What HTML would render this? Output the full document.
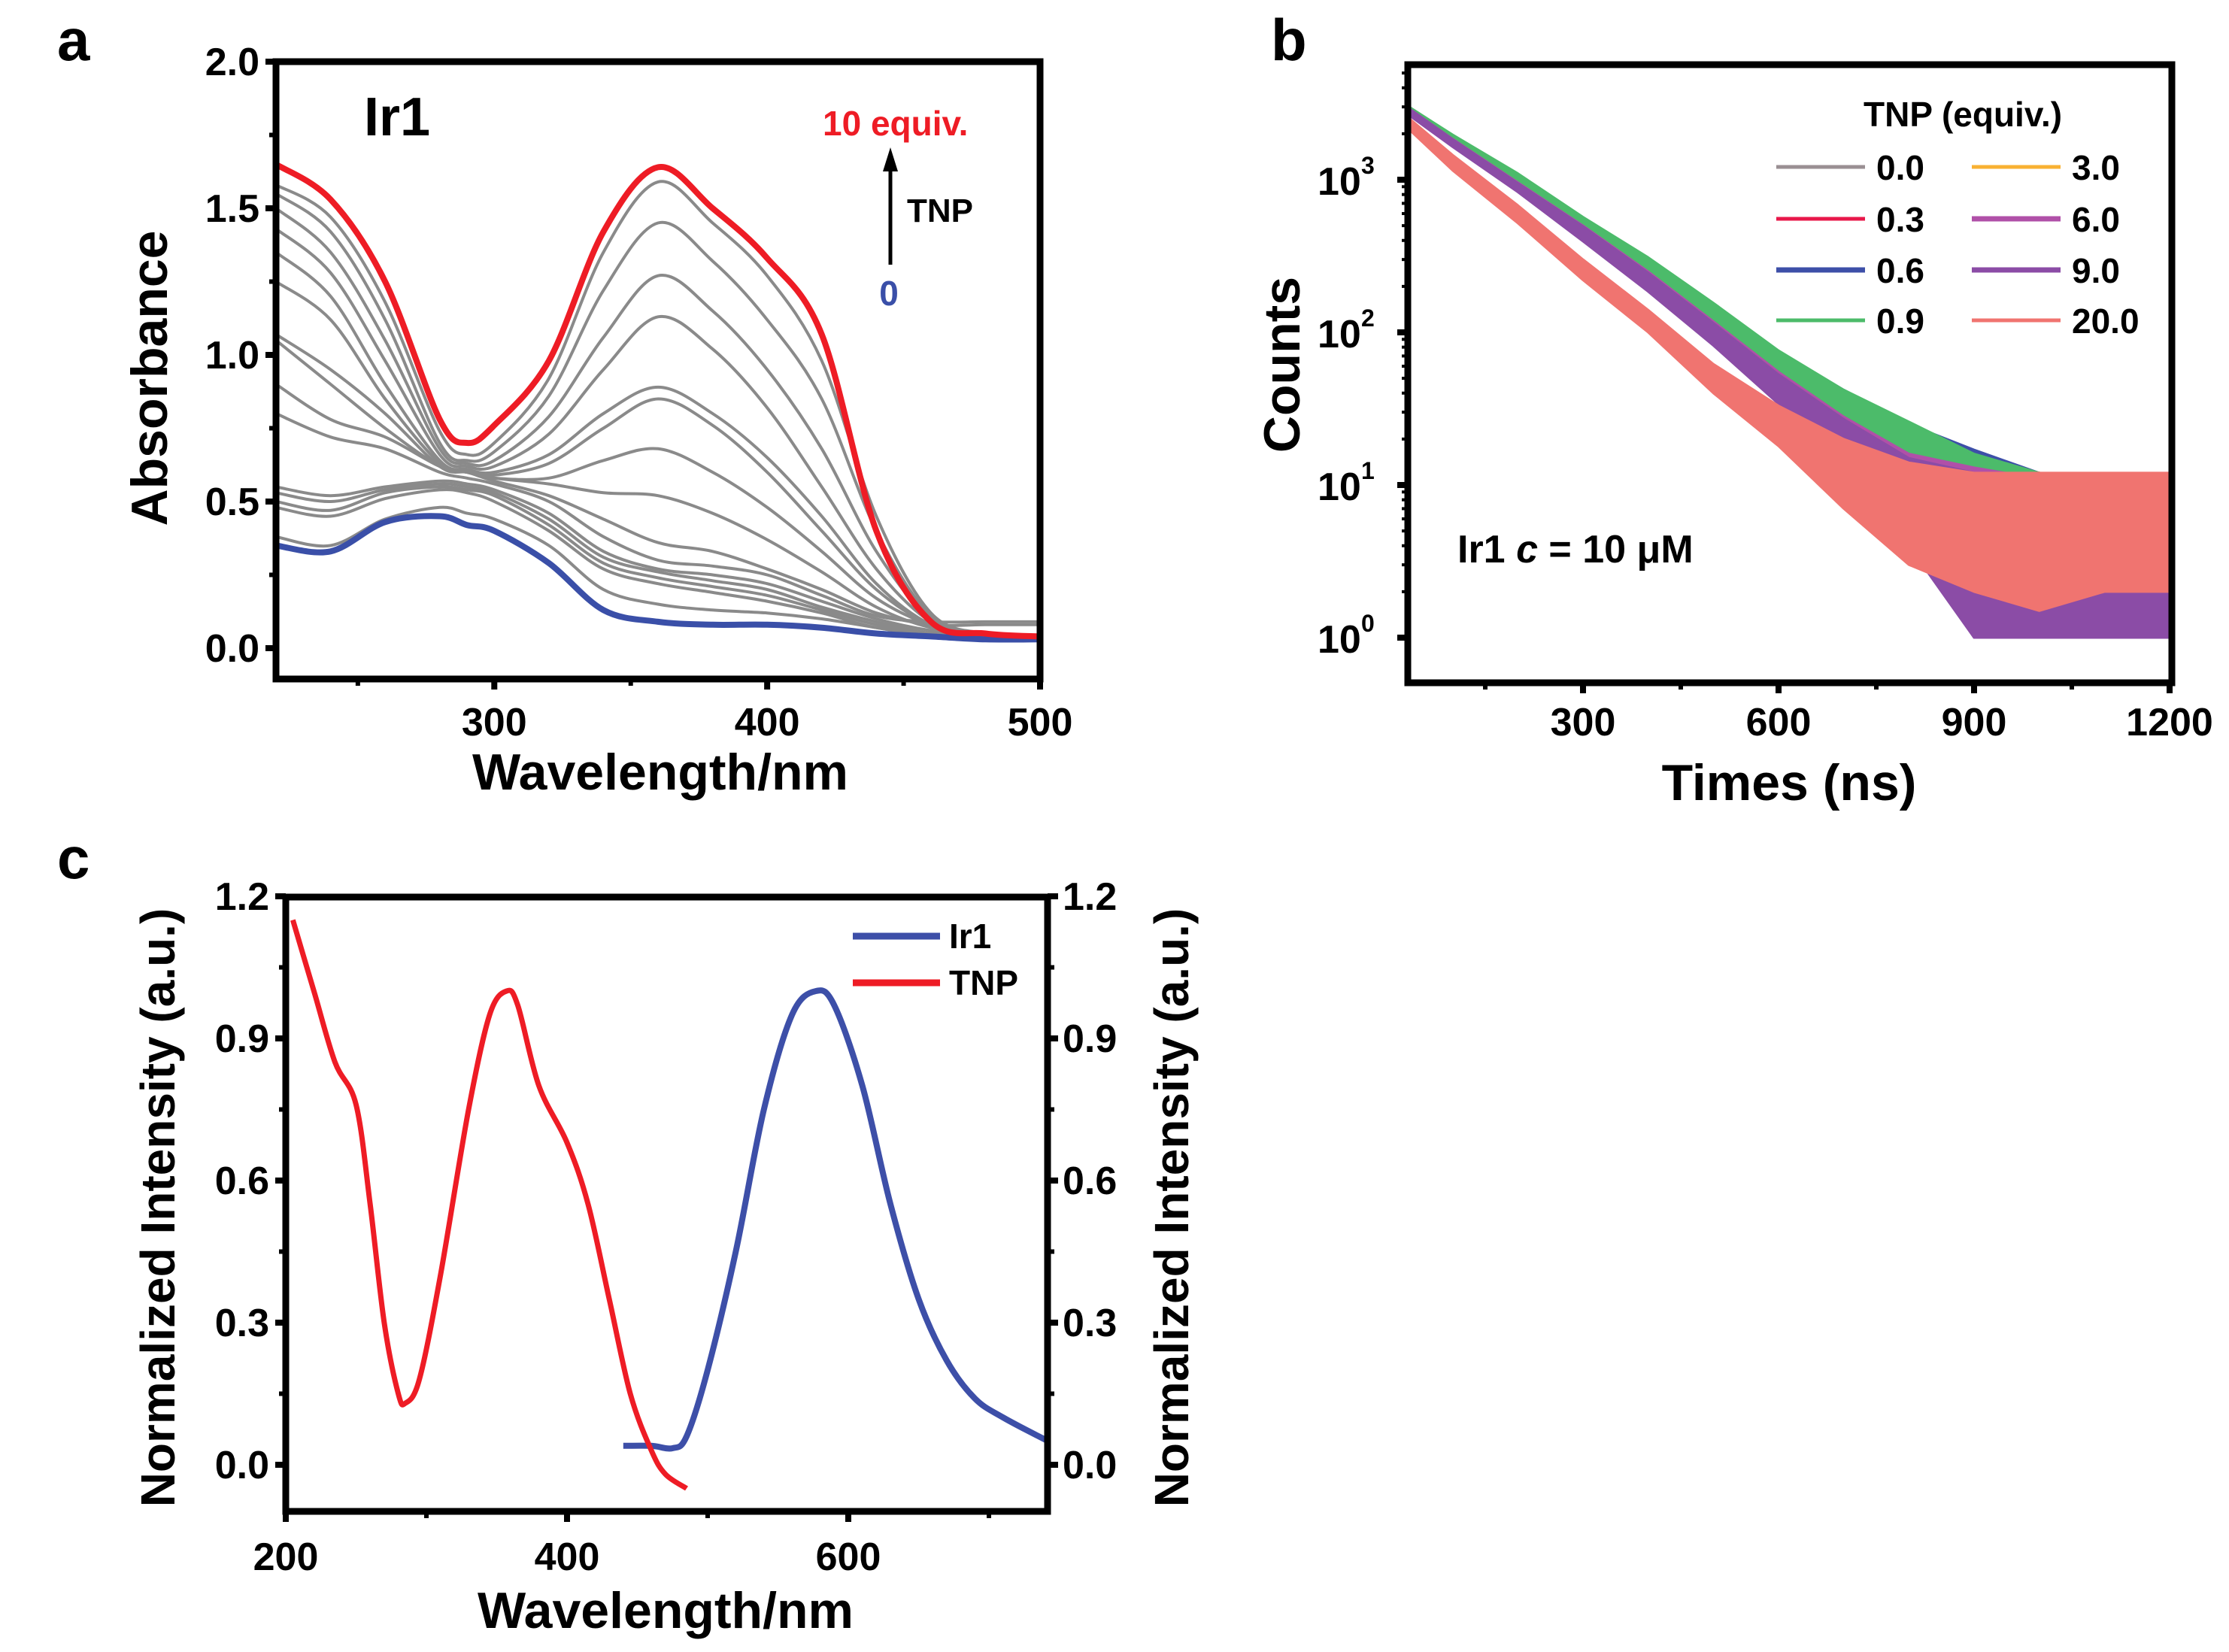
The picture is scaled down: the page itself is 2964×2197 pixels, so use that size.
<!DOCTYPE html>
<html><head><meta charset="utf-8"><style>
html,body{margin:0;padding:0;background:#fff}
svg{display:block}
text{font-family:"Liberation Sans",Arial,sans-serif;font-weight:bold}
</style></head><body>
<svg id="fig" xmlns="http://www.w3.org/2000/svg" width="2964" height="2197" viewBox="0 0 2964 2197">
<rect width="2964" height="2197" fill="#fff"/>
<g id="pa"></g>
<g id="pb"></g>
<g id="pc"></g>
</svg>
<script>
// ---------- Panel a data ----------
const aWavelengths=[220,240,260,280,290,300,320,340,360,380,400,420,440,460,480,500];
const aRed=[1.65,1.53,1.25,0.78,0.70,0.76,0.98,1.42,1.64,1.50,1.33,1.07,0.40,0.09,0.05,0.04];
const aBlue=[0.35,0.33,0.43,0.45,0.42,0.40,0.29,0.13,0.09,0.08,0.08,0.07,0.05,0.04,0.03,0.03];
const aGray1=[1.58,1.47,1.18,0.74,0.66,0.70,0.92,1.35,1.59,1.45,1.27,0.98,0.45,0.12,0.05,0.04];
const aGray2=[1.55,1.42,1.12,0.70,0.64,0.67,0.86,1.22,1.45,1.32,1.12,0.85,0.40,0.11,0.05,0.04];
const aGray3=[1.50,1.35,1.05,0.68,0.63,0.64,0.79,1.06,1.27,1.15,0.95,0.68,0.33,0.10,0.04,0.03];
const aGray4=[1.43,1.28,0.98,0.66,0.62,0.62,0.73,0.95,1.13,1.02,0.82,0.55,0.27,0.09,0.04,0.03];
const aGray5=[1.35,1.20,0.90,0.64,0.61,0.60,0.66,0.80,0.89,0.80,0.65,0.45,0.22,0.08,0.04,0.03];
const aGray6=[1.25,1.12,0.85,0.63,0.60,0.59,0.63,0.75,0.85,0.76,0.60,0.40,0.20,0.08,0.04,0.03];
const aGray7=[1.07,0.95,0.80,0.62,0.60,0.58,0.58,0.64,0.68,0.60,0.48,0.33,0.17,0.08,0.05,0.04];
const aGray8=[1.05,0.90,0.75,0.62,0.60,0.58,0.56,0.53,0.52,0.46,0.37,0.26,0.14,0.07,0.05,0.04];
const aGray9=[0.90,0.78,0.72,0.62,0.60,0.57,0.52,0.44,0.36,0.33,0.27,0.20,0.12,0.08,0.08,0.08];
const aGray10=[0.80,0.72,0.68,0.60,0.58,0.56,0.50,0.38,0.30,0.28,0.25,0.18,0.11,0.09,0.09,0.09];
const aGray11=[0.55,0.52,0.55,0.57,0.56,0.54,0.46,0.33,0.27,0.25,0.22,0.16,0.10,0.06,0.04,0.03];
const aGray12=[0.53,0.50,0.54,0.56,0.55,0.53,0.44,0.31,0.26,0.23,0.20,0.14,0.09,0.05,0.03,0.03];
const aGray13=[0.50,0.47,0.53,0.55,0.54,0.52,0.42,0.29,0.24,0.21,0.18,0.13,0.08,0.05,0.03,0.03];
const aGray14=[0.48,0.45,0.51,0.54,0.53,0.50,0.40,0.27,0.22,0.19,0.16,0.12,0.07,0.05,0.03,0.03];
const aGray15=[0.38,0.35,0.44,0.48,0.46,0.44,0.35,0.20,0.15,0.13,0.12,0.10,0.07,0.04,0.03,0.03];
const aYTicks=["0.0","0.5","1.0","1.5","2.0"];
const aXTicks=["300","400","500"];

// ---------- Panel b data ----------
const bTimes=[25,100,200,300,400,500,600,700,800,900,1000,1100,1200];
const bLabels=["0.0","0.3","0.6","0.9","3.0","6.0","9.0","20.0"];
const bUpper00=[3150,1950,1080,560,300,150,72,40,24,16,12,11,11];
const bLower00=[2850,1750,920,470,240,112,50,22,10,3,1,1,1];
const bUpper03=[3150,1960,1090,565,305,152,74,41,25,16,12,11,11];
const bLower03=[2850,1750,920,470,240,112,50,22,10,3,1,1,1];
const bUpper06=[3150,1960,1090,568,306,154,75,42,25,17,12,11,11];
const bLower06=[2850,1750,920,470,240,112,50,22,10,3,1,1,1];
const bUpper09=[3160,1970,1100,570,310,156,76,42,26,16,12,11,11];
const bLower09=[2860,1760,930,475,245,115,52,24,11,4,1,1,1];
const bUpper30=[3140,1950,1080,555,300,148,72,40,24,15,12,11,11];
const bLower30=[2850,1740,910,465,235,108,48,21,9,2,1,1,1];
const bUpper60=[3100,1850,960,500,250,118,55,28,16,13,11,10,10];
const bLower60=[2800,1650,840,400,190,85,36,14,5,1,1,1,1];
const bUpper90=[3100,1840,950,495,245,115,53,27,15,12,11,10,10];
const bLower90=[2800,1640,830,395,185,82,34,13,4,1,1,1,1];
const bUpper200=[2700,1450,680,300,140,62,33,20,14,12,12,12,12];
const bLower200=[2300,1150,520,220,100,40,18,7,3,2,1.5,2,2];
const bXTicks=["300","600","900","1200"];

// ---------- Panel c data ----------
const cTnpX=[205,220,235,250,260,270,280,285,295,310,330,345,357,365,380,400,415,430,445,460,470,485];
const cTnpY=[1.15,1.00,0.85,0.76,0.55,0.30,0.15,0.13,0.18,0.40,0.75,0.95,1.00,0.97,0.80,0.68,0.55,0.35,0.15,0.03,-0.02,-0.05];
const cIrX=[440,460,475,485,500,520,540,560,577,590,610,630,650,670,690,710,742];
const cIrY=[0.04,0.04,0.035,0.06,0.20,0.45,0.75,0.95,1.00,0.97,0.80,0.55,0.35,0.22,0.14,0.10,0.05];
const cYTicks=["0.0","0.3","0.6","0.9","1.2"];
const cXTicks=["200","400","600"];

const NS="http://www.w3.org/2000/svg";
function el(parent,tag,attrs){const e=document.createElementNS(NS,tag);for(const k in attrs)e.setAttribute(k,attrs[k]);parent.appendChild(e);return e;}
function txt(parent,s,attrs){if(!attrs.fill)attrs.fill='#000';const e=el(parent,'text',attrs);e.textContent=s;return e;}
function smooth(pts){
  let d="M"+pts[0][0].toFixed(1)+","+pts[0][1].toFixed(1);
  for(let i=0;i<pts.length-1;i++){
    const p0=pts[Math.max(0,i-1)],p1=pts[i],p2=pts[i+1],p3=pts[Math.min(pts.length-1,i+2)];
    const c1=[p1[0]+(p2[0]-p0[0])/6,p1[1]+(p2[1]-p0[1])/6];
    const c2=[p2[0]-(p3[0]-p1[0])/6,p2[1]-(p3[1]-p1[1])/6];
    d+=" C"+c1[0].toFixed(1)+","+c1[1].toFixed(1)+" "+c2[0].toFixed(1)+","+c2[1].toFixed(1)+" "+p2[0].toFixed(1)+","+p2[1].toFixed(1);
  }
  return d;
}

// ================= Panel a =================
(function(){
const g=document.getElementById('pa');
const L=367,R=1383,T=82,B=903;
const x=v=>L+(v-220)/(500-220)*(R-L);
const y=v=>862-(v)*390;
const letter=txt(g,"a",{x:76,y:80,'font-size':78});


const clip=el(g,'clipPath',{id:'clipA'});el(clip,'rect',{x:L,y:T,width:R-L,height:B-T});
const cg=el(g,'g',{'clip-path':'url(#clipA)'});
const grays=[aGray15,aGray14,aGray13,aGray12,aGray11,aGray10,aGray9,aGray8,aGray7,aGray6,aGray5,aGray4,aGray3,aGray2,aGray1];
grays.forEach((s,i)=>{
  const p=el(cg,'path',{d:smooth(aWavelengths.map((w,j)=>[x(w),y(s[j])])),fill:'none',stroke:'#8a8a8a','stroke-width':4});
  
  
});
const pb=el(cg,'path',{d:smooth(aWavelengths.map((w,j)=>[x(w),y(aBlue[j])])),fill:'none',stroke:'#3a4fa8','stroke-width':8});


const pr=el(cg,'path',{d:smooth(aWavelengths.map((w,j)=>[x(w),y(aRed[j])])),fill:'none',stroke:'#ee1c25','stroke-width':8});


const fr=el(g,'rect',{x:L,y:T,width:R-L,height:B-T,fill:'none',stroke:'#000','stroke-width':9});


aYTicks.forEach(t=>{const v=parseFloat(t);
  el(g,'line',{x1:L-14,x2:L,y1:y(v),y2:y(v),stroke:'#000','stroke-width':8});
  const tl=txt(g,t,{x:L-22,y:y(v)+18,'font-size':52,'text-anchor':'end'});
  
  
});
[0.25,0.75,1.25,1.75].forEach(v=>el(g,'line',{x1:L-9,x2:L,y1:y(v),y2:y(v),stroke:'#000','stroke-width':6}));
aXTicks.forEach(t=>{const v=parseFloat(t);
  el(g,'line',{x1:x(v),x2:x(v),y1:B,y2:B+14,stroke:'#000','stroke-width':8});
  const tl=txt(g,t,{x:x(v),y:978,'font-size':52,'text-anchor':'middle'});
  
  
});
[250,350,450].forEach(v=>el(g,'line',{x1:x(v),x2:x(v),y1:B,y2:B+9,stroke:'#000','stroke-width':6}));
const xt=txt(g,"Wavelength/nm",{x:878,y:1050,'font-size':68,'text-anchor':'middle'});


const yt=txt(g,"Absorbance",{x:0,y:0,'font-size':68,'text-anchor':'middle',transform:'translate(222,503) rotate(-90)'});


const ir=txt(g,"Ir1",{x:484,y:180,'font-size':72});


const eq=txt(g,"10 equiv.",{x:1094,y:180,'font-size':46,fill:'#ee1c25'});


const ar=el(g,'line',{x1:1184,y1:352,x2:1184,y2:225,stroke:'#000','stroke-width':5});


el(g,'polygon',{points:'1184,196 1174,228 1194,228',fill:'#000'});
const tn=txt(g,"TNP",{x:1206,y:295,'font-size':44});


const z=txt(g,"0",{x:1182,y:406,'font-size':46,'text-anchor':'middle',fill:'#3a4fa8'});


})();

// ================= Panel b =================
(function(){
const g=document.getElementById('pb');
const L=1872,R=2888,T=86,B=908;
const x=v=>2105+(v-300)*(2885-2105)/900;
const y=v=>239-(Math.log10(v)-3)*203;
const letter=txt(g,"b",{x:1690,y:80,'font-size':78});


const clip=el(g,'clipPath',{id:'clipB'});el(clip,'rect',{x:L,y:T,width:R-L,height:B-T});
const cg=el(g,'g',{'clip-path':'url(#clipB)'});
const colors=['#9a8f93','#e8174a','#3d4fa8','#4cbb6a','#f8b133','#b050a8','#8b4ca6','#f07470'];
const ups=[bUpper00,bUpper03,bUpper06,bUpper09,bUpper30,bUpper60,bUpper90,bUpper200];
const lows=[bLower00,bLower03,bLower06,bLower09,bLower30,bLower60,bLower90,bLower200];
const order=[0,1,2,4,3,5,6,7];
order.forEach(i=>{
  const top=bTimes.map((t,j)=>[x(t),y(ups[i][j])]);
  const bot=bTimes.map((t,j)=>[x(t),y(lows[i][j])]).reverse();
  const pts=top.concat(bot).map(p=>p[0].toFixed(1)+","+p[1].toFixed(1)).join(" ");
  const p=el(cg,'polygon',{points:pts,fill:colors[i],stroke:colors[i],'stroke-width':3,'stroke-linejoin':'round'});
  
  
});
const fr=el(g,'rect',{x:L,y:T,width:R-L,height:B-T,fill:'none',stroke:'#000','stroke-width':9});


[0,1,2,3].forEach(e=>{
  const yy=y(Math.pow(10,e));
  el(g,'line',{x1:L-14,x2:L,y1:yy,y2:yy,stroke:'#000','stroke-width':8});
  const t=txt(g,"10",{x:1752,y:yy+20,'font-size':52});
  
  
  txt(g,String(e),{x:1810,y:yy-8,'font-size':32});
  for(let k=2;k<10;k++){const v=Math.pow(10,e)*k;if(e<3||v<5600)el(g,'line',{x1:L-8,x2:L,y1:y(v),y2:y(v),stroke:'#000','stroke-width':4});}
});
bXTicks.forEach(t=>{const v=parseFloat(t);
  el(g,'line',{x1:x(v),x2:x(v),y1:B,y2:B+14,stroke:'#000','stroke-width':8});
  const tl=txt(g,t,{x:x(v),y:978,'font-size':52,'text-anchor':'middle'});
  
  
});
[150,450,750,1050].forEach(v=>el(g,'line',{x1:x(v),x2:x(v),y1:B,y2:B+9,stroke:'#000','stroke-width':6}));
const xt=txt(g,"Times (ns)",{x:2379,y:1064,'font-size':68,'text-anchor':'middle'});


const yt=txt(g,"Counts",{x:0,y:0,'font-size':68,'text-anchor':'middle',transform:'translate(1728,485) rotate(-90)'});


const lt=txt(g,"TNP (equiv.)",{x:2478,y:168,'font-size':46});


const rows=[222,291,359,426];
bLabels.forEach((lab,i)=>{
  const col=i<4?0:1, r=i%4;
  const lx=col?2622:2362, tx=col?2755:2495;
  const ln=el(g,'line',{x1:lx,x2:lx+118,y1:rows[r],y2:rows[r],stroke:colors[i],'stroke-width':(i==5||i==6||i==2)?7:5});
  
  
  const t=txt(g,lab,{x:tx,y:rows[r]+17,'font-size':46});
  
  
});
const an=el(g,'text',{x:1938,y:748,'font-size':52,fill:'#000'});


an.innerHTML='Ir1 <tspan font-style="italic">c</tspan> = 10 μM';
})();

// ================= Panel c =================
(function(){
const g=document.getElementById('pc');
const L=380,R=1393,T=1193,B=2010;
const x=v=>380+(v-200)*(754-380)/200;
const y=v=>1948-v*630;
const letter=txt(g,"c",{x:76,y:1168,'font-size':78});


const clip=el(g,'clipPath',{id:'clipC'});el(clip,'rect',{x:L,y:T,width:R-L,height:B-T});
const cg=el(g,'g',{'clip-path':'url(#clipC)'});
const pi=el(cg,'path',{d:smooth(cIrX.map((w,j)=>[x(w),y(cIrY[j])])),fill:'none',stroke:'#3d4fa8','stroke-width':8});


const pt=el(cg,'path',{d:smooth(cTnpX.map((w,j)=>[x(w),y(cTnpY[j])])),fill:'none',stroke:'#ee1c25','stroke-width':7});


const fr=el(g,'rect',{x:L,y:T,width:R-L,height:B-T,fill:'none',stroke:'#000','stroke-width':9});


cYTicks.forEach(t=>{const v=parseFloat(t);
  el(g,'line',{x1:L-14,x2:L,y1:y(v),y2:y(v),stroke:'#000','stroke-width':8});
  el(g,'line',{x1:R,x2:R+14,y1:y(v),y2:y(v),stroke:'#000','stroke-width':8});
  const tl=txt(g,t,{x:L-22,y:y(v)+18,'font-size':52,'text-anchor':'end'});
  
  
  const tr=txt(g,t,{x:R+20,y:y(v)+18,'font-size':52});
  
  
});
[0.15,0.45,0.75,1.05].forEach(v=>{
  el(g,'line',{x1:L-9,x2:L,y1:y(v),y2:y(v),stroke:'#000','stroke-width':6});
  el(g,'line',{x1:R,x2:R+9,y1:y(v),y2:y(v),stroke:'#000','stroke-width':6});
});
cXTicks.forEach(t=>{const v=parseFloat(t);
  el(g,'line',{x1:x(v),x2:x(v),y1:B,y2:B+14,stroke:'#000','stroke-width':8});
  const tl=txt(g,t,{x:x(v),y:2088,'font-size':52,'text-anchor':'middle'});
  
  
});
[300,500,700].forEach(v=>el(g,'line',{x1:x(v),x2:x(v),y1:B,y2:B+9,stroke:'#000','stroke-width':6}));
const xt=txt(g,"Wavelength/nm",{x:885,y:2165,'font-size':68,'text-anchor':'middle'});


const yl=txt(g,"Normalized Intensity (a.u.)",{x:0,y:0,'font-size':64,'text-anchor':'middle',transform:'translate(232,1606) rotate(-90)'});


const yr=txt(g,"Normalized Intensity (a.u.)",{x:0,y:0,'font-size':64,'text-anchor':'middle',transform:'translate(1580,1606) rotate(-90)'});


const l1=el(g,'line',{x1:1134,x2:1250,y1:1245,y2:1245,stroke:'#3d4fa8','stroke-width':9});


const t1=txt(g,"Ir1",{x:1262,y:1261,'font-size':46});


const l2=el(g,'line',{x1:1134,x2:1250,y1:1307,y2:1307,stroke:'#ee1c25','stroke-width':9});


const t2=txt(g,"TNP",{x:1262,y:1323,'font-size':46});


})();
</script>
</body></html>
